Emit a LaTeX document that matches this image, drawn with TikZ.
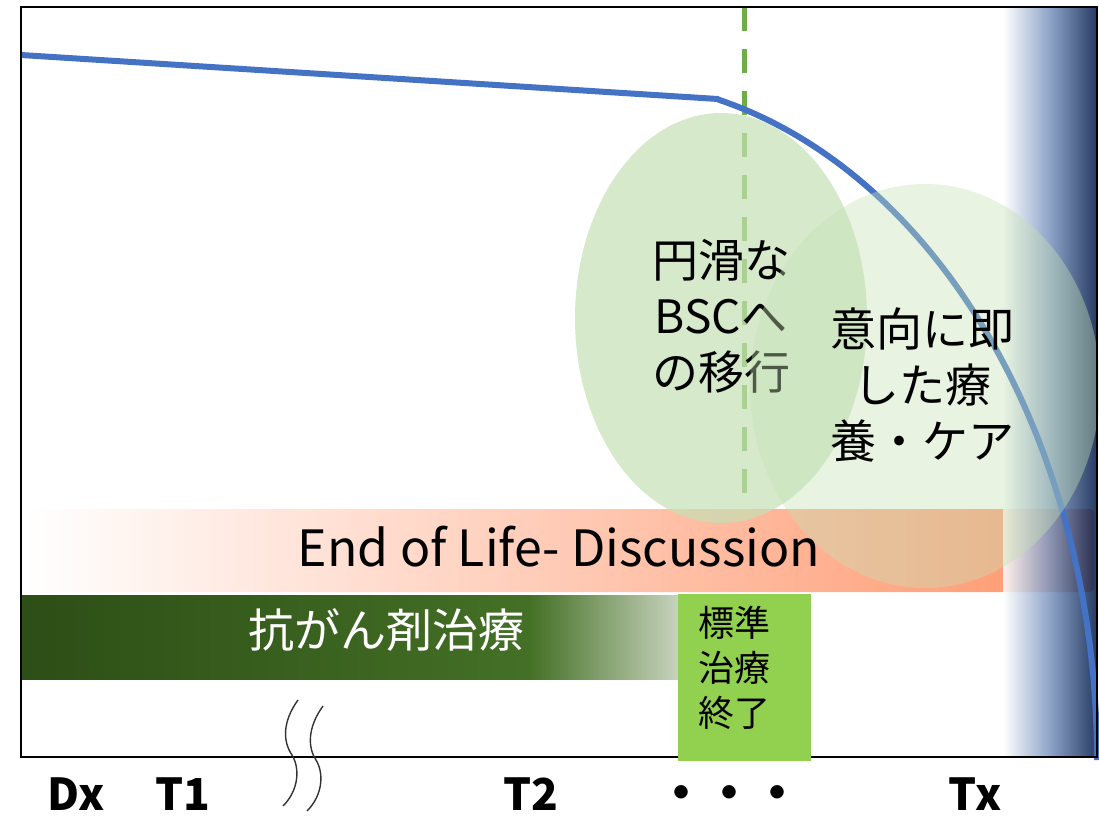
\documentclass[tikz,border=0pt]{standalone}
\usepackage{fontspec}
\usetikzlibrary{shapes.geometric}
\newfontfamily\cjk{Noto Sans CJK JP}
\definecolor{curveblue}{HTML}{4472C4}
\definecolor{dashgreen}{HTML}{70AD47}
\definecolor{ellgreen}{HTML}{C5E0B4}
\definecolor{boxgreen}{HTML}{92D050}
\definecolor{salmon}{RGB}{255,150,108}
\definecolor{chemoA}{RGB}{45,78,22}
\definecolor{chemoB}{RGB}{68,112,38}
\definecolor{chemoC}{RGB}{200,212,190}
\definecolor{bmid}{RGB}{120,147,190}
\definecolor{bdark}{RGB}{0,25,73}
\pgfdeclarehorizontalshading{chemosh}{100bp}{color(0bp)=(chemoA); color(25bp)=(chemoA); color(63.6bp)=(chemoB); color(75bp)=(chemoC); color(100bp)=(chemoC)}
\pgfdeclarehorizontalshading{bluesh}{100bp}{color(0bp)=(white); color(25bp)=(white); color(50bp)=(bmid); color(75bp)=(bdark); color(100bp)=(bdark)}
\tikzset{
  jp/.style={inner sep=0pt, align=center, font=\cjk\fontsize{46}{56}\selectfont},
  stdtext/.style={inner sep=0pt, align=center, font=\cjk\fontsize{36}{45}\selectfont},
  axislabel/.style={inner sep=0pt, anchor=base, font=\cjk\bfseries\fontsize{44}{50}\selectfont},
  lifecurve/.style={draw=curveblue, line width=6pt, line join=round},
  wavy/.style={draw=black!80, line width=1.4pt},
  bubble/.style={ellipse, fill=ellgreen, inner sep=0pt},
}
\begin{document}
\begin{tikzpicture}[x=1pt,y=-1pt]
\useasboundingbox (0,0) rectangle (1099,815);
% End of life band
\path[left color=white, right color=salmon, rounded corners=4pt] (25,509) rectangle (1094,592);
% blue gradient
\shade[shading=bluesh, opacity=0.85] (1003,7) rectangle (1097,757);
% chemo band
\shade[shading=chemosh] (21,595) rectangle (680,679);
% dashed line
\coordinate (dtop) at (744,7);
\coordinate (dbot) at (744,504);
\draw[dashgreen, line width=5pt, dash pattern=on 24pt off 18pt] (dtop) -- (dbot);
% life curve
\coordinate (c0) at (21,55);
\coordinate (knee) at (718,99);
\draw[lifecurve] (c0) -- (knee) -- plot[domain=76.2:0, samples=80, variable=\t] ({600+497*cos(\t)}, {760-680*sin(\t)});
% bubbles
\node[bubble, fill opacity=0.7, minimum width=292pt, minimum height=410pt] (e1) at (721,318) {};
\node[jp] (t1) at (721,316) {円滑な\\BSCへ\\の移行};
\node[bubble, fill opacity=0.4, minimum width=350pt, minimum height=404pt] (e2) at (925,386) {};
\node[jp] (t2) at (922,385) {意向に即\\した療\\養・ケア};
\node[inner sep=0pt, font=\cjk\fontsize{50}{58}\selectfont] (eol) at (559,547) {End of Life- Discussion};
\node[jp, text=white] (chemo) at (386,630) {抗がん剤治療};
% frame
\draw[black, line width=2.5pt] (21,7) rectangle (1097,757);
% standard therapy end box
\path[fill=boxgreen] (678,594) rectangle (811,761);
\node[stdtext] (std) at (734,668) {標準\\治療\\終了};
% axis labels
\node[axislabel] (dx) at (76,810) {Dx};
\node[axislabel] (tone) at (183,810) {T1};
\node[axislabel] (ttwo) at (531,810) {T2};
\node[inner sep=0pt, anchor=base, font=\cjk\bfseries\fontsize{48}{50}\selectfont] (dots) at (729,810) {・・・};
\node[axislabel] (tx) at (975,810) {Tx};
% wavy break marks
\draw[wavy] (298,700) .. controls (282,722) and (283,742) .. (292,755) .. controls (300,768) and (299,790) .. (283,806);
\draw[wavy] (323,706) .. controls (307,728) and (308,748) .. (316,760) .. controls (324,773) and (323,795) .. (307,811);
\end{tikzpicture}
\end{document}
